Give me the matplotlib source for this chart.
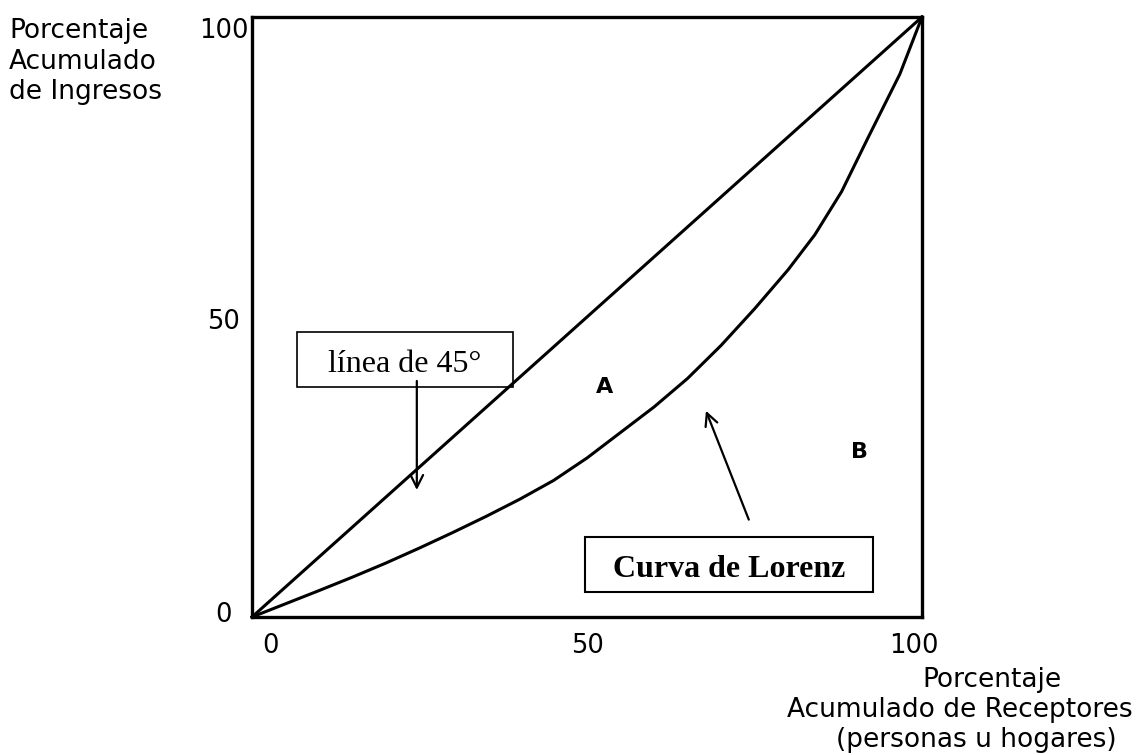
import matplotlib.pyplot as plt
from matplotlib.patches import Rectangle

# datos (porcentajes acumulados)
igualdad_x = [0, 100]
igualdad_y = [0, 100]
lorenz_x = [0, 5, 10, 15, 20, 25, 30, 35, 40, 45, 50, 55, 60, 65, 70, 75,
            80, 84, 88, 92, 96.7, 100]
lorenz_y = [0, 2.2, 4.4, 6.65, 9.0, 11.5, 14.1, 16.8, 19.65, 22.75, 26.5, 30.75,
            35.0, 39.75, 45.25, 51.35, 57.85, 63.7, 70.9, 80.0, 90.5, 100]
etiquetas_x = ['0', '50', '100']
etiquetas_y = ['0', '50', '100']
titulo_y = ['Porcentaje', 'Acumulado', 'de Ingresos']
titulo_x = ['Porcentaje', 'Acumulado de Receptores', '(personas u hogares)']

W, H = 1138, 755
fig = plt.figure(figsize=(W/100, H/100), dpi=100)
ax = fig.add_axes([252/W, 1-617/H, 670/W, 600/H])
ax.set_xlim(0, 100)
ax.set_ylim(0, 100)
ax.set_xticks([])
ax.set_yticks([])
for s in ax.spines.values():
    s.set_linewidth(2.4)

ax.plot(igualdad_x, igualdad_y, color='black', lw=2.2, clip_on=False)
ax.plot(lorenz_x, lorenz_y, color='black', lw=2.2, clip_on=False,
        solid_joinstyle='round')

# etiquetas de los ejes (texto suelto como en el original)
fsz = 18.5
for lab, xp in zip(etiquetas_x, [2.7, 50.1, 98.8]):
    ax.text(xp, -4.8, lab, fontsize=fsz, ha='center', va='center', clip_on=False)
for lab, yp in zip(etiquetas_y, [0.3, 49.2, 97.7]):
    ax.text(-4.2, yp, lab, fontsize=fsz, ha='center', va='center', clip_on=False)

for lab, yp in zip(titulo_y, [31, 62, 92]):
    fig.text(9/W, 1-yp/H, lab, fontsize=19, ha='left', va='center')
for lab, xp, yp in zip(titulo_x, [992, 960, 976], [680, 710, 740]):
    fig.text(xp/W, 1-yp/H, lab, fontsize=19, ha='center', va='center')

# recuadro linea de 45
ax.add_patch(Rectangle((6.7, 38.3), 32.3, 9.2, fill=False, lw=1.2, ec='black'))
ax.text(22.8, 40.8, 'línea de 45°', family='Liberation Serif', fontsize=23,
        ha='center', va='baseline')
ax.annotate('', xy=(24.6, 20.7), xytext=(24.6, 39.8),
            arrowprops=dict(arrowstyle='->,head_length=0.9,head_width=0.45',
                            lw=1.6, color='black'))

# recuadro curva de lorenz
ax.add_patch(Rectangle((49.7, 4.2), 43.0, 9.1, fill=False, lw=1.5, ec='black'))
ax.text(71.2, 6.7, 'Curva de Lorenz', family='Liberation Serif', fontsize=23,
        fontweight='bold', ha='center', va='baseline')
ax.annotate('', xy=(67.6, 34.8), xytext=(74.3, 15.8),
            arrowprops=dict(arrowstyle='->,head_length=0.9,head_width=0.45',
                            lw=1.6, color='black'))

ax.text(52.6, 38.3, 'A', fontsize=16, fontweight='bold', ha='center', va='center')
ax.text(90.7, 27.5, 'B', fontsize=16, fontweight='bold', ha='center', va='center')

fig.savefig('out.png', dpi=100)
